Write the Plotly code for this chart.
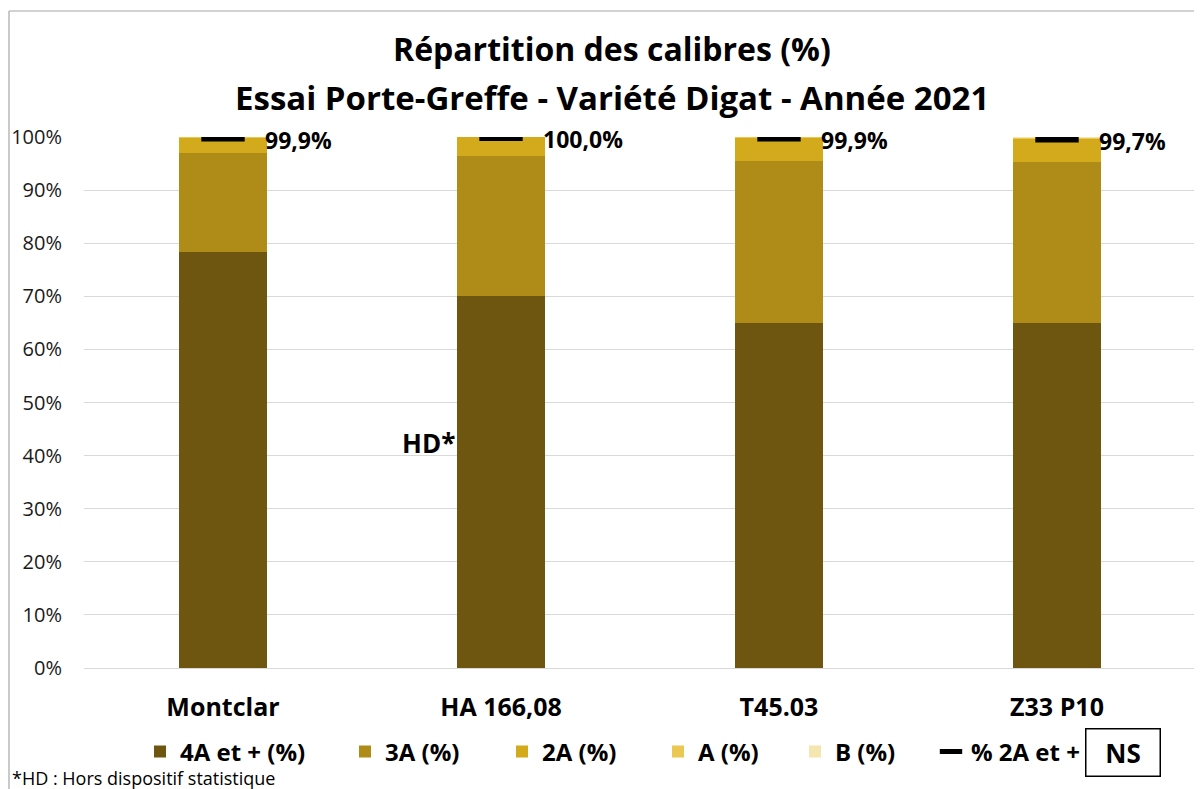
import plotly.graph_objects as go

categories = ["Montclar", "HA 166,08", "T45.03", "Z33 P10"]
s_4a = [78.4, 70.0, 65.0, 65.0]
s_3a = [18.6, 26.5, 30.5, 30.3]
s_2a = [2.9, 3.5, 4.4, 4.4]
s_a = [0.1, 0.0, 0.1, 0.2]
s_b = [0.0, 0.0, 0.0, 0.1]
pct_2a_plus = [99.9, 100.0, 99.9, 99.7]
pct_labels = ["99,9%", "100,0%", "99,9%", "99,7%"]
series_names = ["4A et + (%)", "3A (%)", "2A (%)", "A (%)", "B (%)"]
series_colors = ["#6E5610", "#AF8C17", "#D3AA1B", "#EAC851", "#F5E5AE"]
y_ticks = list(range(0, 101, 10))
tick_text = [f"{t}%" for t in y_ticks]

FONT = "Open Sans"
OFF = 8  # page body margin
W, H = 1202 - OFF, 789 - OFF
L, R, T, B = 84 - OFF, 6, 137 - OFF, 789 - 668
pw, ph = W - L - R, H - T - B

def px_x(px):
    # px: screen pixel x
    return (px - OFF - L) / pw

def px_y(py):
    return (H - B - (py - OFF)) / ph

fig = go.Figure()
sym_ref = [165, 370, 527, 683, 820, 956]
legend_px = [s - 25 for s in sym_ref]
all_series = [s_4a, s_3a, s_2a, s_a, s_b]
for i, (name, vals, col) in enumerate(zip(series_names, all_series, series_colors)):
    lg = "legend" if i == 0 else f"legend{i+1}"
    fig.add_trace(go.Bar(x=categories, y=vals, name=name, marker_color=col,
                         marker_line_width=0, legend=lg))

fig.add_trace(go.Scatter(x=categories, y=pct_2a_plus, mode="markers", name="% 2A et +",
                         marker=dict(symbol="line-ew", size=31, color="black",
                                     line=dict(width=8, color="black")),
                         legend="legend6"))

annotations = []
for c, v, t in zip(categories, pct_2a_plus, pct_labels):
    annotations.append(dict(x=c, y=v, text=f"<b>{t}</b>", showarrow=False, xanchor="left",
                            yanchor="middle", xshift=40, yshift=-2,
                            font=dict(family=FONT, size=23, color="black")))

annotations.append(dict(x="HA 166,08", y=42.4, text="<b>HD*</b>", showarrow=False,
                        xanchor="right", yanchor="middle", xshift=-44,
                        font=dict(family=FONT, size=26, color="black")))
annotations.append(dict(xref="paper", yref="paper", x=px_x(612), y=px_y(48),
                        text="<b>Répartition des calibres (%)</b>", showarrow=False,
                        xanchor="center", yanchor="middle",
                        font=dict(family=FONT, size=32, color="black")))
annotations.append(dict(xref="paper", yref="paper", x=px_x(612), y=px_y(97),
                        text="<b>Essai Porte-Greffe - Variété Digat - Année 2021</b>", showarrow=False,
                        xanchor="center", yanchor="middle",
                        font=dict(family=FONT, size=33, color="black")))
annotations.append(dict(xref="paper", yref="paper", x=px_x(1122.5), y=px_y(752),
                        text="<b>NS</b>", showarrow=False, xanchor="center", yanchor="middle",
                        width=71, height=44, bordercolor="black", borderwidth=1.5,
                        font=dict(family=FONT, size=26, color="black")))
annotations.append(dict(xref="paper", yref="paper", x=px_x(10), y=px_y(778),
                        text="*HD : Hors dispositif statistique", showarrow=False,
                        xanchor="left", yanchor="middle",
                        font=dict(family=FONT, size=18, color="black")))

legends = {}
for i, lx in enumerate(legend_px):
    key = "legend" if i == 0 else f"legend{i+1}"
    legends[key] = dict(orientation="h", x=px_x(lx), y=px_y(752), xanchor="left",
                        yanchor="middle", bgcolor="rgba(0,0,0,0)",
                        font=dict(family=FONT, size=24, color="black", weight="bold"))

fig.update_layout(
    width=W, height=H, margin=dict(l=L, r=R, t=T, b=B, autoexpand=False),
    paper_bgcolor="white", plot_bgcolor="white",
    barmode="stack", bargap=0.687,
    showlegend=True,
    annotations=annotations,
    font=dict(family=FONT, color="black"),
    shapes=[
        dict(type="line", xref="paper", yref="paper", x0=px_x(9), x1=px_x(9),
             y0=px_y(11), y1=px_y(800), line=dict(color="#A6A6A6", width=1.2)),
        dict(type="line", xref="paper", yref="paper", x0=px_x(9), x1=px_x(1210),
             y0=px_y(11), y1=px_y(11), line=dict(color="#A6A6A6", width=1.2)),
    ],
    **legends,
)
fig.update_yaxes(range=[0, 100], tickvals=y_ticks, ticktext=tick_text,
                 showgrid=True, gridcolor="#D9D9D9", gridwidth=1.3,
                 zeroline=False, showline=False,
                 ticks="outside", ticklen=17, tickcolor="rgba(0,0,0,0)",
                 tickfont=dict(family=FONT, size=20, color="#1a1a1a"))
fig.update_xaxes(showline=True, linecolor="#D9D9D9", linewidth=1.3,
                 ticks="outside", ticklen=17, tickcolor="rgba(0,0,0,0)",
                 tickfont=dict(family=FONT, size=25, color="black", weight="bold"))

fig.write_html("out.html")
